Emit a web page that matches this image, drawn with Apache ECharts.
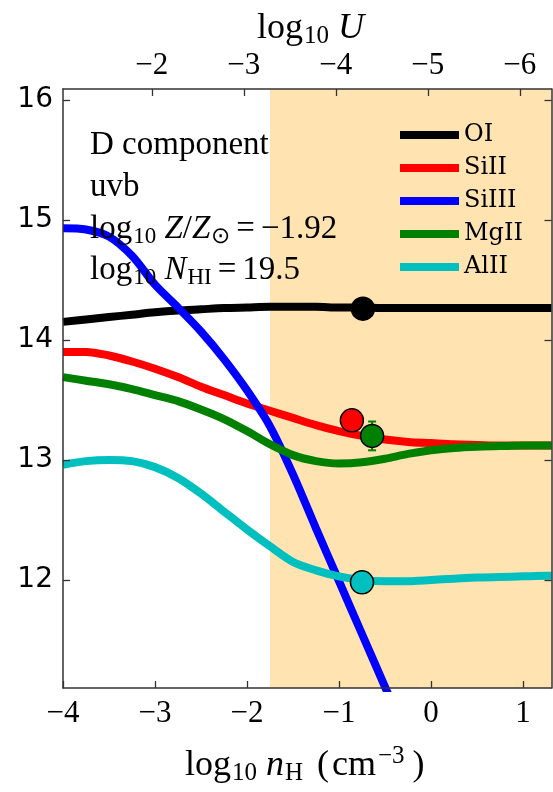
<!DOCTYPE html>
<html>
<head>
<meta charset="utf-8">
<script src="https://cdn.jsdelivr.net/npm/echarts@6/dist/echarts.min.js"></script>
<style>html,body{margin:0;padding:0;background:#fff}#c{width:553px;height:792px}</style>
</head>
<body>
<div id="c"></div>
<script>
// ---- data ----
const nH = [-4, -3.75, -3.5, -3.25, -3, -2.75, -2.5, -2.25, -2, -1.75, -1.5, -1.25, -1, -0.75, -0.5, -0.25, 0, 0.25, 0.5, 0.75, 1, 1.25, 1.31];
const OI    = [14.15, 14.17, 14.19, 14.21, 14.23, 14.245, 14.255, 14.265, 14.27, 14.275, 14.275, 14.275, 14.27, 14.27, 14.265, 14.265, 14.265, 14.265, 14.265, 14.265, 14.265, 14.265, 14.265];
const SiII  = [13.9, 13.9, 13.87, 13.82, 13.76, 13.69, 13.61, 13.54, 13.47, 13.41, 13.35, 13.29, 13.24, 13.2, 13.17, 13.15, 13.14, 13.13, 13.125, 13.12, 13.12, 13.12, 13.12];
const SiIII = [14.93, 14.92, 14.86, 14.70, 14.46, 14.27, 14.07, 13.84, 13.58, 13.28, 12.88, 12.43, 11.99, 11.55, 11.11, 10.67];
const MgII  = [13.69, 13.66, 13.63, 13.59, 13.54, 13.49, 13.42, 13.34, 13.24, 13.13, 13.04, 12.99, 12.97, 12.98, 13.01, 13.05, 13.08, 13.1, 13.11, 13.115, 13.12, 13.12, 13.12];
const AlII  = [12.96, 12.99, 13.0, 12.99, 12.94, 12.85, 12.72, 12.57, 12.42, 12.28, 12.15, 12.08, 12.03, 12.0, 11.99, 11.99, 12.0, 12.01, 12.02, 12.025, 12.03, 12.035, 12.035];

const ionNames  = ['OI', 'SiII', 'SiIII', 'MgII', 'AlII'];
const ionColors = ['#000000', '#ff0000', '#0000ff', '#008000', '#00bfbf'];
const ionCurves = [OI, SiII, SiIII, MgII, AlII];

const obsIon  = ['OI', 'SiII', 'MgII', 'AlII'];
const obsNH   = [-0.74, -0.86, -0.64, -0.75];
const obsLogN = [14.26, 13.33, 13.2, 11.98];
const obsErr  = [0, 0, 0.12, 0];

const shadeRange = [-1.75, 1.31];
const xTicks = [-4, -3, -2, -1, 0, 1];
const yTicks = [12, 13, 14, 15, 16];
const uTicks = [-2, -3, -4, -5, -6];
const uOffset = 5.035; // log10 U = -log10 nH - uOffset

const xMin = -4, xMax = 1.31, yMin = 11.1, yMax = 16.09;

const chart = echarts.init(document.getElementById('c'), null, {renderer: 'canvas'});
const minus = v => String(v).replace('-', '\u2212');
const axisLine = {show: true, onZero: false, lineStyle: {color: '#333', width: 1.5}};
const tick = (vals) => ({show: true, inside: true, length: 7, lineStyle: {color: '#333', width: 1.3}, customValues: vals});

const series = [];
series.push({
  type: 'line', data: [], z: 1, silent: true,
  markArea: {silent: true, itemStyle: {color: 'rgba(255,165,0,0.3)'}, data: [[{xAxis: shadeRange[0]}, {xAxis: shadeRange[1]}]]}
});
ionNames.forEach((n, i) => {
  series.push({
    name: n, type: 'line', smooth: 0.3, showSymbol: false, z: 3 + i,
    lineStyle: {color: ionColors[i], width: 8},
    itemStyle: {color: ionColors[i]},
    data: ionCurves[i].map((v, k) => [nH[k], v])
  });
});
// error bars
series.push({
  type: 'custom', z: 20,
  data: obsNH.map((x, i) => [x, obsLogN[i], obsErr[i]]).filter(d => d[2] > 0),
  renderItem: (params, api) => {
    const x = api.value(0), y = api.value(1), e = api.value(2);
    const top = api.coord([x, y + e]), bot = api.coord([x, y - e]);
    const st = {stroke: '#008000', lineWidth: 2};
    return {type: 'group', children: [
      {type: 'line', shape: {x1: top[0], y1: top[1], x2: bot[0], y2: bot[1]}, style: st},
      {type: 'line', shape: {x1: top[0] - 4, y1: top[1], x2: top[0] + 4, y2: top[1]}, style: st},
      {type: 'line', shape: {x1: bot[0] - 4, y1: bot[1], x2: bot[0] + 4, y2: bot[1]}, style: st}
    ]};
  }
});
// observed points
obsIon.forEach((n, i) => {
  series.push({
    type: 'scatter', z: 21, symbol: 'circle', symbolSize: 23,
    itemStyle: {color: ionColors[ionNames.indexOf(n)], borderColor: '#000', borderWidth: 1.5, opacity: 1},
    data: [[obsNH[i], obsLogN[i]]]
  });
});

const serif = 'Liberation Serif';
const mathRich = (fs) => ({
  r: {fontFamily: serif, fontSize: fs, color: '#000', lineHeight: fs + 4},
  g: {fontFamily: serif, fontSize: fs, color: '#000', lineHeight: fs + 4, padding: [0, 3, 0, Math.round(fs * 0.4)]},
  e: {fontFamily: serif, fontSize: fs, color: '#000', lineHeight: fs + 4, padding: [0, 6, 0, 6]},
  q: {fontFamily: serif, fontSize: fs, color: '#000', lineHeight: fs + 4, padding: [0, 0, 0, 5]},
  i: {fontFamily: serif, fontStyle: 'italic', fontSize: fs, color: '#000', lineHeight: fs + 4},
  s: {fontFamily: serif, fontSize: Math.round(fs * 0.7), color: '#000', lineHeight: fs + 4, padding: [Math.round(fs * 0.45), 0, 0, 1]},
  p: {fontFamily: serif, fontSize: Math.round(fs * 0.7), color: '#000', lineHeight: fs + 4, padding: [0, 3, Math.round(fs * 0.5), 2]}
});

const option = {
  animation: false,
  backgroundColor: '#fff',
  grid: {left: 63, top: 89, width: 488.5, height: 599, containLabel: false},
  legend: {
    orient: 'vertical', left: 400, top: 123, padding: 0, itemGap: 9,
    icon: 'rect', itemWidth: 59, itemHeight: 8,
    textStyle: {fontFamily: 'DejaVu Serif', fontSize: 24, color: '#000'},
    data: ionNames
  },
  xAxis: [
    {type: 'value', position: 'bottom', min: xMin, max: xMax, z: 10,
     axisLine: axisLine, splitLine: {show: false},
     axisTick: tick(xTicks),
     axisLabel: {customValues: xTicks, margin: 10, fontFamily: serif, fontSize: 31, color: '#000', formatter: minus}},
    {type: 'value', position: 'top', inverse: true, min: -xMax - uOffset, max: -xMin - uOffset, z: 10,
     axisLine: axisLine, splitLine: {show: false},
     axisTick: tick(uTicks),
     axisLabel: {customValues: uTicks, margin: 8, fontFamily: serif, fontSize: 31, color: '#000', formatter: minus}}
  ],
  yAxis: [
    {type: 'value', position: 'left', min: yMin, max: yMax, z: 10,
     axisLine: axisLine, splitLine: {show: false},
     axisTick: tick(yTicks),
     axisLabel: {customValues: yTicks, margin: 10, fontFamily: 'DejaVu Sans', fontSize: 28, color: '#000'}},
    {type: 'value', position: 'right', min: yMin, max: yMax, z: 10,
     axisLine: axisLine, splitLine: {show: false},
     axisTick: tick(yTicks),
     axisLabel: {show: false}}
  ],
  graphic: [
    {type: 'text', left: 90, top: 129, z: 30, style: {text: 'D component', font: '33px "Liberation Serif"', fill: '#000'}},
    {type: 'text', left: 90, top: 171, z: 30, style: {text: 'uvb', font: '33px "Liberation Serif"', fill: '#000'}},
    {type: 'text', left: 90, top: 210, z: 30, style: {text: '{r|log}{s|10}{r| }{i|Z}{r|/}{i|Z}{s|\u2299}{e|=}{r|\u22121.92}', rich: mathRich(33)}},
    {type: 'text', left: 90, top: 251, z: 30, style: {text: '{r|log}{s|10}{r| }{i|N}{s|HI}{e|=}{r|19.5}', rich: mathRich(33)}},
    {type: 'text', left: 257, top: 8, z: 30, style: {text: '{r|log}{s|10}{r| }{i|U}', rich: mathRich(36)}},
    {type: 'text', left: 185, top: 744, z: 30, style: {text: '{r|log}{s|10}{r| }{i|n}{s|H}{g|(}{r|cm}{p|\u22123}{q|)}', rich: mathRich(36)}}
  ],
  series: series
};
chart.setOption(option);
</script>
</body>
</html>
